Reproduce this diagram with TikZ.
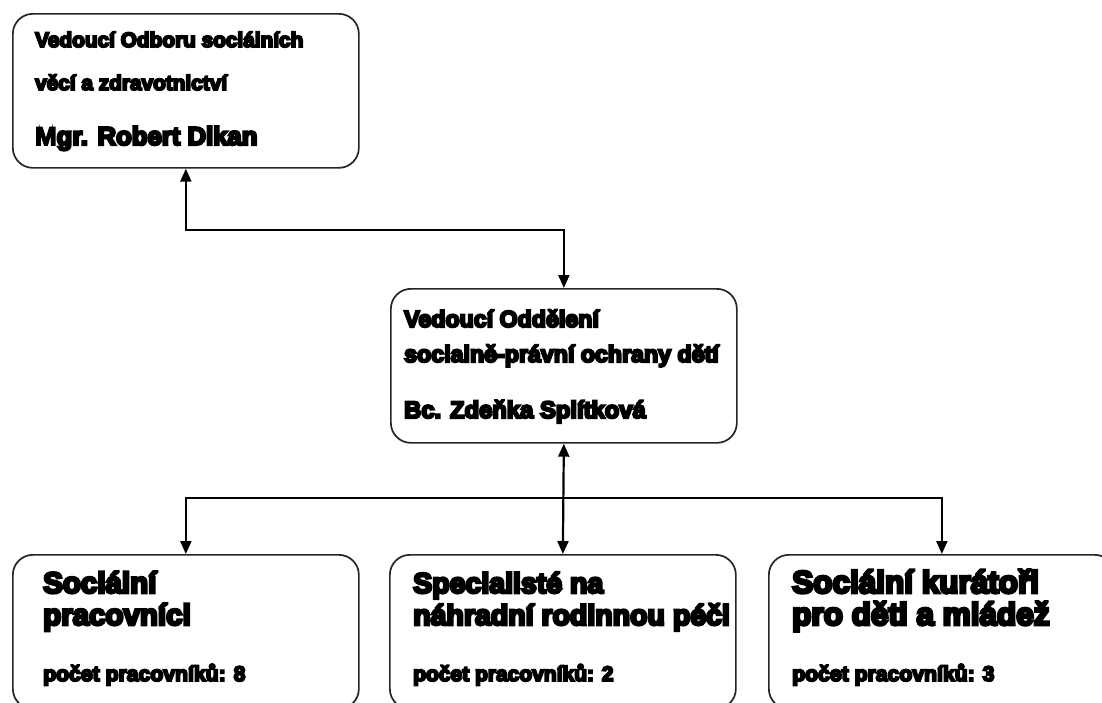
\documentclass[tikz,border=0pt]{standalone}
\usepackage{fontspec}
\newfontfamily\heavy{Liberation Sans Bold}[FakeBold=9]
\newfontfamily\heavyM{Liberation Sans Bold}[FakeBold=6]
\usetikzlibrary{arrows.meta}
\newcommand{\fs}[1]{\heavy\fontsize{#1}{#1}\selectfont}
\tikzset{
  box/.style={draw=black!85, line width=1.7pt, rounded corners=20pt, minimum width=346pt, minimum height=154pt, inner sep=0pt, anchor=north west},
  conn/.style={draw=black, line width=2.2pt},
  tip/.tip={Triangle[width=11pt,length=13pt]},
  txt/.style={anchor=base west, inner sep=0pt},
}
\begin{document}
\begin{tikzpicture}[x=1pt,y=-1pt]
\clip (0,0) rectangle (1102,702);
\fill[white] (0,0) rectangle (1102,702);
% boxes
\node[box] (top) at (12,13) {};
\node[box] (mid) at (390,288) {};
\node[box] (bl) at (12,554) {};
\node[box] (bm) at (389,554) {};
\node[box] (br) at (768,554) {};
% texts
\node[txt,font=\fs{20.8}] (t1) at (35,47) {Vedoucí Odboru sociálních};
\node[txt,font=\fs{20.8}] (t2) at (35,90) {věcí a zdravotnictví};
\node[txt,font=\fs{25.7}] (t3) at (35,145) {{\heavyM M}gr. Robert Dikan};
\node[txt,font=\fs{23.2}] (m1) at (404,327) {Vedoucí Oddělení};
\node[txt,font=\fs{23.2}] (m2) at (404,362) {socialně-právní ochrany dětí};
\node[txt,font=\fs{23.8}] (m3) at (404,418) {Bc. Zdeňka Splítková};
\node[txt,font=\fs{29.5}] (a1) at (43,593) {Sociální};
\node[txt,font=\fs{29.5}] (a2) at (43,625) {pracovníci};
\node[txt,font=\fs{21.2}] (a3) at (43,681) {počet pracovníků: 8};
\node[txt,font=\fs{28.5}] (b1) at (413,593) {Specialisté na};
\node[txt,font=\fs{28.5}] (b2) at (413,625) {náhradní rodinnou péči};
\node[txt,font=\fs{21.0}] (b3) at (413,681) {počet pracovníků: 2};
\node[txt,font=\fs{31.5}] (c1) at (792,593) {Sociální kurátoři};
\node[txt,font=\fs{31.5}] (c2) at (792,625) {pro děti a mládež};
\node[txt,font=\fs{21.2}] (c3) at (792,681) {počet pracovníků: 3};
% connectors
\draw[conn,tip-tip] (top.south) -- ++(0,61) -| (mid.north);
\coordinate (hub) at (563,498);
\draw[conn,tip-tip] (mid.south) -- (bm.north);
\draw[conn,-tip] (hub) -| (bl.north);
\draw[conn,-tip] (hub) -| (br.north);
\end{tikzpicture}
\end{document}
